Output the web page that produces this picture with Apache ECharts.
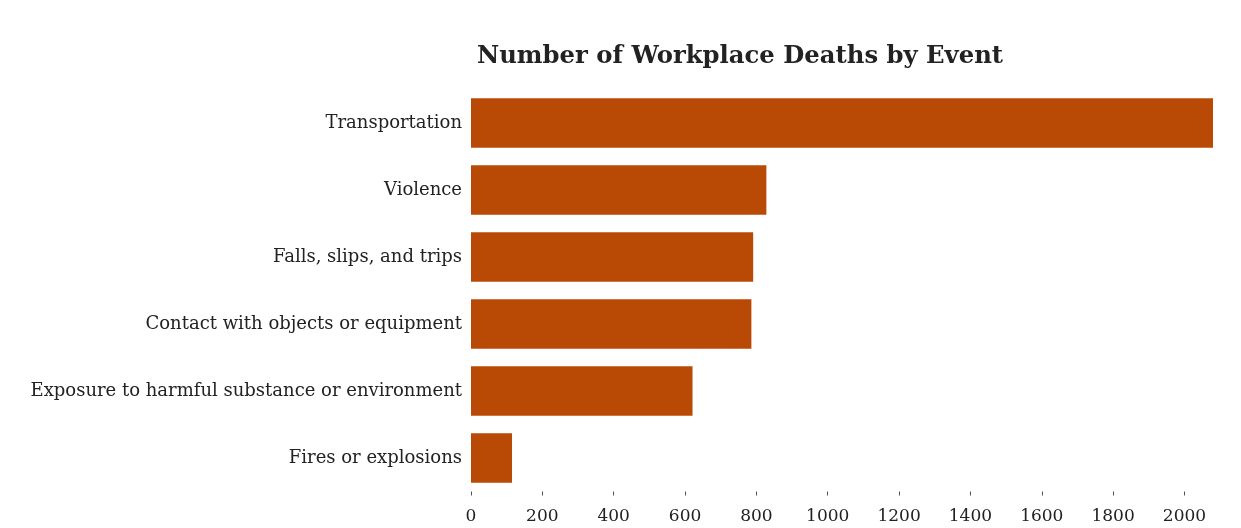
<!DOCTYPE html>
<html>
<head>
<meta charset="utf-8">
<script src="https://cdn.jsdelivr.net/npm/echarts@6/dist/echarts.min.js"></script>
<style>
html,body{margin:0;padding:0;background:#ffffff;}
#chart{width:1241px;height:528px;}
</style>
</head>
<body>
<div id="chart"></div>
<script>
const categories = [
  "Transportation",
  "Violence",
  "Falls, slips, and trips",
  "Contact with objects or equipment",
  "Exposure to harmful substance or environment",
  "Fires or explosions"
];
const deaths = [2080, 828, 791, 786, 621, 115];
const xTicks = [0, 200, 400, 600, 800, 1000, 1200, 1400, 1600, 1800, 2000];

const chart = echarts.init(document.getElementById('chart'), null, {renderer: 'canvas'});
const serif = '"DejaVu Serif", "Liberation Serif", serif';
chart.setOption({
  backgroundColor: '#ffffff',
  animation: false,
  title: {
    text: 'Number of Workplace Deaths by Event',
    left: 472,
    top: 40,
    textStyle: {fontFamily: serif, fontWeight: 'bold', fontSize: 24.3, color: '#222222'}
  },
  grid: {left: 471, right: 28, top: 89.5, bottom: 36.5, containLabel: false},
  xAxis: {
    type: 'value',
    min: 0,
    max: 2080,
    axisLine: {show: false},
    splitLine: {show: false},
    axisTick: {show: true, length: 4, customValues: xTicks, lineStyle: {color: '#555'}},
    axisLabel: {customValues: xTicks, margin: 17, fontFamily: serif, fontSize: 17, color: '#222222',
      formatter: function (v) { return String(v); }}
  },
  yAxis: {
    type: 'category',
    inverse: true,
    data: categories,
    axisLine: {show: false},
    axisTick: {show: false},
    axisLabel: {margin: 9, fontFamily: serif, fontSize: 18, color: '#222222'}
  },
  series: [{
    type: 'bar',
    data: deaths,
    barCategoryGap: '26%',
    itemStyle: {color: '#b84a06'}
  }]
});
</script>
</body>
</html>
